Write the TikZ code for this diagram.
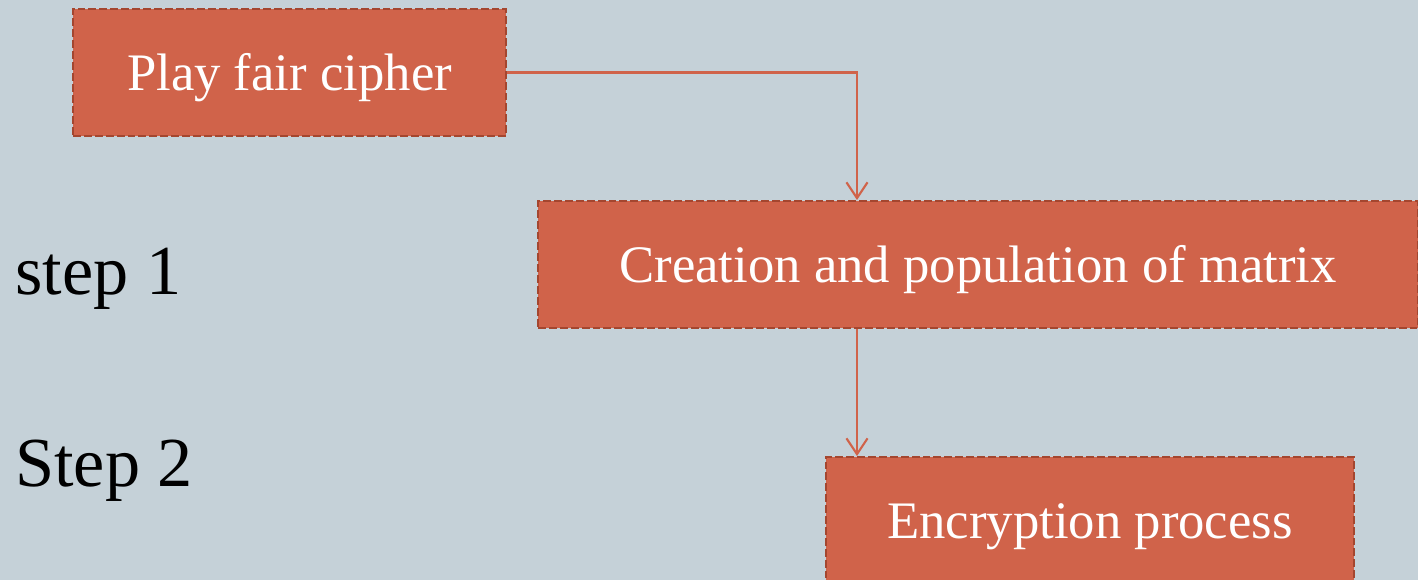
\documentclass[tikz,border=0pt]{standalone}
\usepackage{fontspec}
\setmainfont{Liberation Serif}
\usetikzlibrary{arrows.meta,positioning,calc}
\definecolor{hatter}{HTML}{C5D1D8}
\definecolor{narancs}{HTML}{D0634A}
\definecolor{keret}{HTML}{A4462F}
\tikzset{
  doboz/.style={draw=keret,fill=narancs,line width=1.1pt,dash pattern=on 4.5pt off 1.7pt,
    text=white,font=\fontsize{30}{34}\selectfont,inner sep=0pt,minimum height=2.54cm,
    text height=23pt,text depth=2pt},
  nyil/.style={draw=narancs,line width=1.2pt,-{Straight Barb[length=9pt,width=12pt]}},
  lepes/.style={anchor=base west,inner sep=0pt,font=\fontsize{40}{44}\selectfont},
}
\begin{document}
\begin{tikzpicture}[x=0.02cm,y=-0.02cm]
  \useasboundingbox[fill=hatter] (0,0) rectangle (1418,580);
  \clip (0,0) rectangle (1418,580);
  % dobozok
  \node[doboz,minimum width=8.66cm] (jatek) at (289.5,72.5) {Play fair cipher};
  \node[doboz,minimum width=17.6cm] (matrix) at (978,264.5) {Creation and population of matrix};
  \node[doboz,minimum width=10.56cm] (titkos) at (1090,520.5) {Encryption process};
  % lepesek
  \node[lepes] (l1) at (15,295) {step 1};
  \node[lepes] (l2) at (15,487) {Step 2};
  % nyilak
  \coordinate (tores) at (857,0);
  \draw[nyil] (jatek.east) -| (tores |- matrix.north);
  \draw[nyil] (tores |- matrix.south) -- (tores |- titkos.north);
\end{tikzpicture}
\end{document}
